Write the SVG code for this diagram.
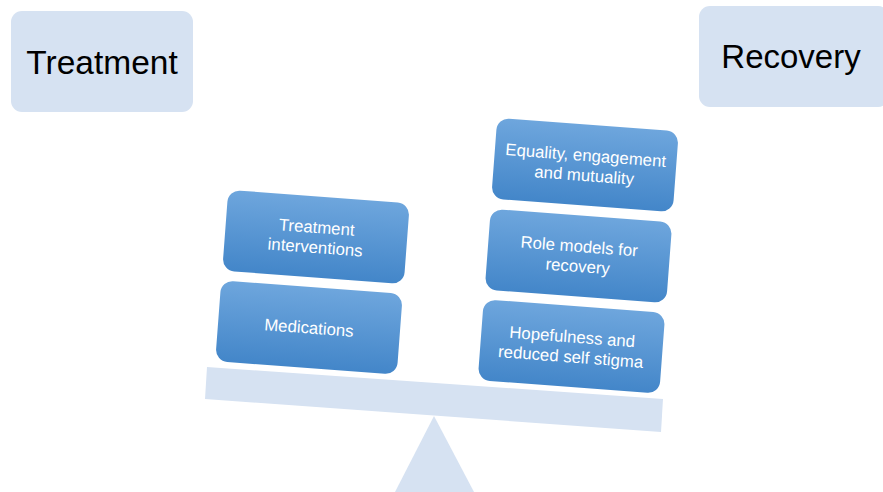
<svg xmlns="http://www.w3.org/2000/svg" width="883" height="492" viewBox="0 0 883 492">
<defs>
<linearGradient id="g" x1="0" y1="0" x2="0" y2="1">
<stop offset="0" stop-color="#6EA6DD"/>
<stop offset="1" stop-color="#4386C9"/>
</linearGradient>
<style>
.title{fill:#D6E2F2}
.t{font-family:"Liberation Sans",Arial,sans-serif;fill:#000;text-anchor:middle}
.box{fill:url(#g)}
.bt{font-family:"Liberation Sans",Arial,sans-serif;font-size:16.8px;fill:#fff;text-anchor:middle}
.light{fill:#D6E2F2}
</style>
</defs>
<rect width="883" height="492" fill="#fff"/>
<g id="treatment">
<rect class="title" x="11" y="11" width="182" height="101" rx="11"/>
<text class="t" x="102" y="74" font-size="33.5">Treatment</text>
</g>
<g id="recovery">
<rect class="title" x="699" y="6" width="190" height="101" rx="11"/>
<text class="t" x="791" y="68" font-size="33">Recovery</text>
</g>
<g id="fulcrum">
<polygon class="light" points="434,416 395,492 474,492"/>
</g>
<g id="beam">
<polygon class="light" points="207,367 663,399 661,432 205,399"/>
</g>
<g id="treatment-interventions" transform="translate(316,237) rotate(4.3)">
<rect class="box" x="-91" y="-40.5" width="182" height="81" rx="12"/>
<text class="bt" x="0" y="-4">Treatment</text>
<text class="bt" x="0" y="16">interventions</text>
</g>
<g id="medications" transform="translate(309,327.5) rotate(4.3)">
<rect class="box" x="-91" y="-40.5" width="182" height="81" rx="12"/>
<text class="bt" x="0" y="6">Medications</text>
</g>
<g id="equality" transform="translate(585,165) rotate(4.3)">
<rect class="box" x="-91" y="-40.5" width="182" height="81" rx="12"/>
<text class="bt" x="0" y="-4">Equality, engagement</text>
<text class="bt" x="0" y="16">and mutuality</text>
</g>
<g id="role-models" transform="translate(578.5,256) rotate(4.3)">
<rect class="box" x="-91" y="-40.5" width="182" height="81" rx="12"/>
<text class="bt" x="0" y="-4">Role models for</text>
<text class="bt" x="0" y="16">recovery</text>
</g>
<g id="hopefulness" transform="translate(571.5,346.5) rotate(4.3)">
<rect class="box" x="-91" y="-40.5" width="182" height="81" rx="12"/>
<text class="bt" x="0" y="-4">Hopefulness and</text>
<text class="bt" x="0" y="16">reduced self stigma</text>
</g>
<g id="connectors"></g>
</svg>
